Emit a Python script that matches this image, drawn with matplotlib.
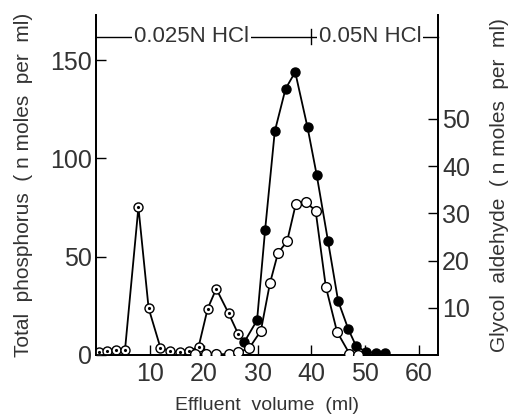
import matplotlib
matplotlib.use("Agg")
import matplotlib.pyplot as plt

# Dotted-circle series (left axis, nmoles P per ml)
dot_x = [0.4, 1.9, 3.6, 5.3, 7.8, 9.7, 11.9, 13.7, 15.5, 17.3, 19.0, 20.7, 22.3, 24.6, 26.4]
dot_y = [1.7, 2.0, 2.4, 2.5, 75.2, 23.8, 3.7, 2.0, 1.3, 2.2, 4.1, 23.6, 33.7, 21.2, 10.6]

# Filled circles: total phosphorus (left axis)
fill_x = [27.5, 29.9, 31.4, 33.2, 35.2, 37.0, 39.3, 41.0, 43.1, 45.0, 46.9, 48.3, 50.2, 52.0, 53.8]
fill_y = [6.5, 17.7, 63.7, 113.8, 135.4, 144.0, 115.8, 91.7, 58.2, 27.5, 13.1, 4.8, 1.5, 1.2, 1.2]

# Open circles: glycol aldehyde (right axis)
open_x = [18.4, 20.4, 22.3, 24.6, 26.4, 28.4, 30.6, 32.3, 33.8, 35.5, 37.1, 39.0, 40.8, 42.7, 44.8, 47.1, 48.7]
open_y = [0.15, 0.15, 0.15, 0.2, 0.6, 1.4, 5.1, 15.2, 21.6, 24.1, 31.9, 32.3, 30.6, 14.5, 4.9, 0.3, 0.0]

x_ticks = [10, 20, 30, 40, 50, 60]
left_ticks = [0, 50, 100, 150]
right_ticks = [10, 20, 30, 40, 50]

plt.rcParams['font.family'] = ['Liberation Sans', 'DejaVu Sans']
txt = '#333333'

fig = plt.figure(figsize=(5.13, 4.18), dpi=100)
ax = fig.add_axes([96/513, 1-355/418, (438-96)/513, (355-15)/418])
ax2 = ax.twinx()

ax.set_xlim(-0.1, 63.6)
ax.set_ylim(0, 173)
ax2.set_ylim(0, 72)

lw = 1.3
ax.plot(dot_x, dot_y, color='black', lw=lw, zorder=3)
ax.plot(dot_x, dot_y, 'o', ms=6.5, mfc='white', mec='black', mew=1.0, zorder=4)
ax.plot(dot_x, dot_y, '.', ms=2.5, color='black', zorder=5)
ax2.plot(open_x, open_y, '-o', color='black', lw=lw, ms=7, mfc='white', mec='black', mew=1.0, zorder=3)
ax.plot(fill_x, fill_y, '-o', color='black', lw=lw, ms=6.5, mfc='black', mec='black', zorder=4)

for a in (ax, ax2):
    a.spines['top'].set_visible(False)
    for s in a.spines.values():
        s.set_linewidth(1.3)

ax.set_xticks(x_ticks)
ax.set_yticks(left_ticks)
ax2.set_yticks(right_ticks)
ax.tick_params(axis='both', direction='in', length=7, width=1.0, labelsize=18, labelcolor=txt, pad=3)
ax.tick_params(axis='x', pad=5)
ax2.tick_params(axis='y', direction='in', length=7, width=1.0, labelsize=18, labelcolor=txt, pad=3)

ax.set_xlabel('Effluent  volume  (ml)', fontsize=14, color=txt, labelpad=8)
ax.set_ylabel('Total  phosphorus  ( n moles  per  ml)', fontsize=15, color=txt, labelpad=12)
ax2.set_ylabel('Glycol  aldehyde  ( n moles  per  ml)', fontsize=15, color=txt, labelpad=14)

# Solvent bracket at top
yb = 162
ax.plot([0, 63.6], [yb, yb], color='black', lw=1.0, clip_on=False, zorder=2)
ax.plot([40, 40], [yb - 4, yb + 4], color='black', lw=1.0, clip_on=False, zorder=2)
ax.text(17.6, yb, '0.025N HCl', ha='center', va='center', fontsize=16, color=txt,
        bbox=dict(facecolor='white', edgecolor='none', pad=1.5), zorder=6)
ax.text(50.9, yb, '0.05N HCl', ha='center', va='center', fontsize=16, color=txt,
        bbox=dict(facecolor='white', edgecolor='none', pad=1.5), zorder=6)

fig.savefig('out.png', dpi=100)
